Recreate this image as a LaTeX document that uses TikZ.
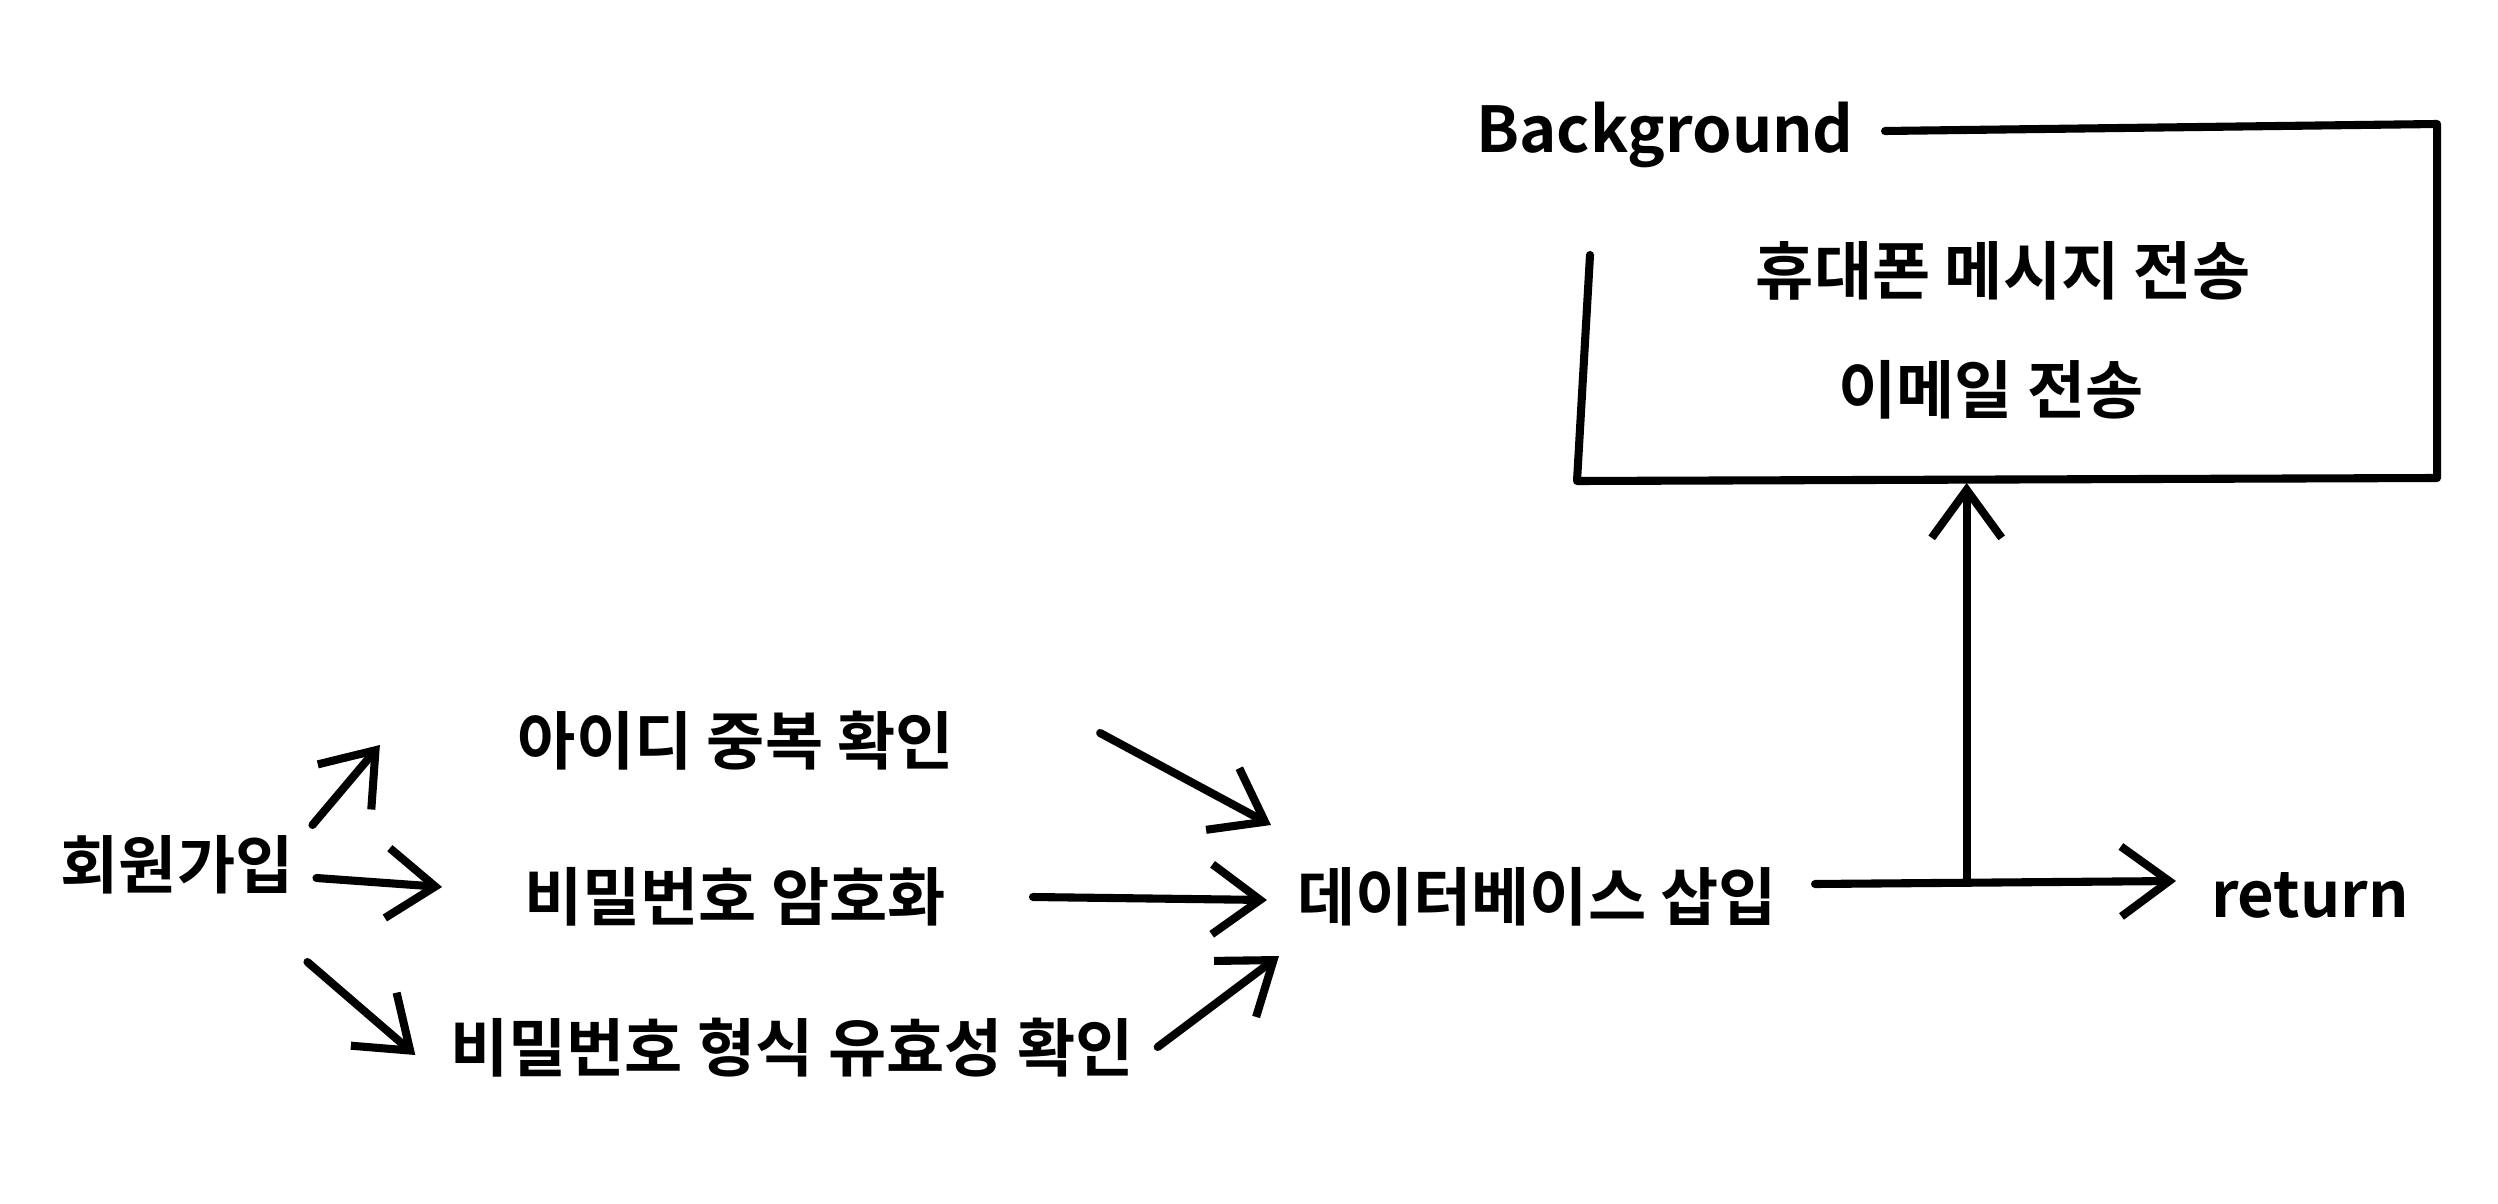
\documentclass[tikz,border=0pt]{standalone}
\usepackage{fontspec}
\setmainfont{Noto Sans CJK KR}[BoldFont={Noto Sans CJK KR Bold}]
\usetikzlibrary{arrows.meta}
\begin{document}
\begin{tikzpicture}[line width=2.3pt, line cap=round, line join=round,
    arr/.style={-{Straight Barb[length=4.8mm,width=7mm]}},
    lbl/.style={inner sep=0pt, font=\fontsize{18}{22}\selectfont\bfseries}]
      \useasboundingbox (0,0) rectangle (24.98,12.03);
      \node[lbl] (signup) at (1.77,3.38) {회원가입};
      \node[lbl] (dup) at (7.36,4.62) {아이디 중복 확인};
      \node[lbl] (enc) at (7.35,3.06) {비밀번호 암호화};
      \node[lbl] (fmt) at (7.92,1.55) {비밀번호 형식 유효성 확인};
      \node[lbl] (db) at (15.37,3.06) {데이터베이스 삽입};
      \node[lbl] (ret) at (23.10,3.08) {return};
      \node[lbl] (bg) at (16.65,10.68) {Background};
      \node[lbl] (sms) at (20.03,9.32) {휴대폰 메시지 전송};
      \node[lbl] (mail) at (19.91,8.13) {이메일 전송};
      \draw (18.85,10.72) -- (24.37,10.79) -- (24.37,7.25) -- (15.77,7.22) -- (15.9,9.48);
      \coordinate (boxb) at (19.6,7.2);
      \draw[arr] ([shift={(0.15,0.40)}]signup.east) -- ([shift={(-1.34,-0.04)}]dup.west);
      \draw[arr] ([shift={(0.19,-0.13)}]signup.east) -- ([shift={(-0.78,0.10)}]enc.west);
      \draw[arr] ([shift={(0.10,-0.97)}]signup.east) -- ([shift={(-0.31,-0.07)}]fmt.west);
      \draw[arr] ([shift={(1.42,0.08)}]dup.east) -- ([shift={(-0.22,0.72)}]db.west);
      \draw[arr] ([shift={(0.83,0)}]enc.east) -- ([shift={(-0.26,-0.03)}]db.west);
      \draw[arr] ([shift={(0.20,0.01)}]fmt.east) -- ([shift={(-0.14,-0.59)}]db.west);
      \draw[arr] ([shift={(0.34,0.13)}]db.east) -- ([shift={(-0.31,0.14)}]ret.west)
        coordinate[pos=0.42] (jn);
      \draw[arr] (jn) -- (jn |- boxb);
\end{tikzpicture}
\end{document}
